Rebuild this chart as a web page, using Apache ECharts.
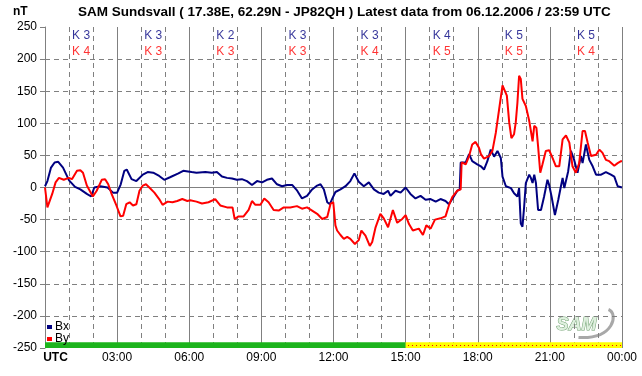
<!DOCTYPE html>
<html>
<head>
<meta charset="utf-8">
<script src="https://cdn.jsdelivr.net/npm/echarts@6/dist/echarts.min.js"></script>
<style>
  html, body { margin: 0; padding: 0; background: #fff; }
  #chart { width: 642px; height: 376px; }
</style>
</head>
<body>
<div id="chart"></div>
<script>
// time in hours (UTC), values in nT
const bxTime = [0, 0.1, 0.25, 0.4, 0.55, 0.75, 1.0, 1.25, 1.47, 1.74, 1.92, 2.05, 2.3, 2.6, 2.83, 3.0, 3.15, 3.3, 3.4, 3.6, 3.8, 4.07, 4.27, 4.5, 4.75, 4.96, 5.2, 5.55, 5.75, 5.95, 6.1, 6.3, 6.67, 6.94, 7.15, 7.36, 7.57, 7.78, 7.98, 8.19, 8.4, 8.61, 8.82, 9.03, 9.23, 9.44, 9.65, 9.86, 10.07, 10.28, 10.49, 10.69, 10.9, 11.11, 11.32, 11.46, 11.6, 11.74, 11.85, 11.94, 12.08, 12.29, 12.5, 12.7, 12.87, 13.05, 13.26, 13.47, 13.68, 13.88, 14.09, 14.27, 14.37, 14.58, 14.79, 15.0, 15.2, 15.41, 15.62, 15.83, 16.04, 16.25, 16.45, 16.66, 16.8, 16.94, 17.15, 17.25, 17.29, 17.5, 17.64, 17.77, 17.98, 18.13, 18.26, 18.4, 18.54, 18.68, 18.82, 18.96, 19.03, 19.17, 19.38, 19.51, 19.65, 19.72, 19.79, 19.86, 19.93, 20.0, 20.14, 20.21, 20.28, 20.35, 20.42, 20.51, 20.63, 20.76, 20.9, 20.97, 21.07, 21.21, 21.35, 21.46, 21.53, 21.6, 21.76, 21.875, 22.01, 22.15, 22.29, 22.36, 22.5, 22.64, 22.78, 22.92, 23.13, 23.33, 23.54, 23.68, 23.82, 24];
const bx = [2, 10, 31, 39, 40, 31, 11, 1, -3, -10, -14, 0, 2, 0, -8, -8, 5, 26, 28, 13, 10, 20, 24, 23, 18, 12, 16, 22, 26, 25, 24, 23, 24, 23, 24, 17, 15, 14, 12, 13, 10, 4, 10, 8, 12, 14, 5, 2, 4, 4, -5, -17, -13, -3, 3, 5, -3, -23, -26, -18, -7, -3, 2, 10, 22, 9, 2, 8, -3, -8, -10, -5, -13, -5, -8, 0, -10, -17, -13, -19, -18, -22, -18, -21, -26, -18, -5, -3, 39, 39, 52, 41, 36, 33, 28, 41, 59, 48, 57, 46, 17, 2, -1, -9, -14, -1, -56, -61, -30, 7, 20, 15, 7, 20, 7, -35, -35, -14, 12, 4, -14, -43, -19, 2, 15, -1, 25, 57, 43, 23, 49, 38, 67, 43, 33, 20, 20, 24, 20, 17, 2, 0];

const byTime = [0, 0.1, 0.16, 0.3, 0.44, 0.58, 0.78, 0.99, 1.12, 1.33, 1.47, 1.58, 1.74, 1.99, 2.15, 2.36, 2.5, 2.63, 2.77, 2.97, 3.14, 3.25, 3.38, 3.52, 3.66, 3.8, 3.93, 4.07, 4.2, 4.34, 4.55, 4.75, 4.89, 5.1, 5.3, 5.5, 5.71, 5.92, 6.04, 6.3, 6.53, 6.8, 7.08, 7.29, 7.57, 7.8, 7.89, 8.05, 8.26, 8.47, 8.61, 8.75, 8.96, 9.12, 9.3, 9.51, 9.72, 9.93, 10.2, 10.48, 10.69, 10.9, 11.11, 11.32, 11.53, 11.74, 11.88, 11.99, 12.08, 12.15, 12.29, 12.43, 12.57, 12.7, 12.89, 13.05, 13.16, 13.33, 13.51, 13.61, 13.75, 13.95, 14.09, 14.27, 14.47, 14.65, 14.86, 15.0, 15.14, 15.3, 15.55, 15.72, 15.86, 16.04, 16.22, 16.45, 16.66, 16.8, 16.94, 17.15, 17.29, 17.33, 17.5, 17.64, 17.77, 17.91, 18.05, 18.13, 18.26, 18.47, 18.61, 18.75, 18.89, 19.03, 19.1, 19.21, 19.31, 19.4, 19.51, 19.58, 19.65, 19.72, 19.79, 19.86, 20.0, 20.14, 20.28, 20.35, 20.44, 20.51, 20.6, 20.69, 20.83, 20.97, 21.11, 21.25, 21.39, 21.53, 21.67, 21.81, 21.94, 22.08, 22.22, 22.36, 22.46, 22.57, 22.71, 22.92, 23.06, 23.19, 23.33, 23.47, 23.68, 23.82, 23.96, 24];
const by = [0, -31, -31, -10, 8, 15, 12, 15, 13, 26, 27, 23, 3, -14, -5, 12, 13, 5, -10, -28, -45, -44, -26, -23, -28, -26, -5, 3, 5, 0, -8, -18, -27, -22, -23, -21, -18, -21, -20, -22, -25, -23, -18, -28, -31, -31, -49, -45, -45, -35, -21, -27, -27, -17, -23, -35, -36, -31, -31, -29, -33, -31, -36, -41, -49, -46, -25, -23, -59, -67, -74, -80, -77, -80, -88, -82, -67, -75, -91, -85, -62, -41, -48, -62, -35, -55, -49, -43, -57, -67, -64, -74, -59, -64, -50, -48, -45, -28, -15, -5, -3, 39, 36, 49, 67, 71, 62, 52, 45, 49, 57, 85, 122, 159, 161, 143, 101, 77, 83, 101, 132, 174, 169, 138, 127, 104, 72, 96, 93, 64, 23, 36, 57, 58, 46, 33, 33, 75, 81, 70, 33, 23, 38, 88, 88, 70, 49, 51, 59, 54, 43, 41, 34, 38, 41, 41];

// K indices per 3-hour block
const kBx = [3, 3, 2, 3, 3, 4, 5, 5];
const kBy = [4, 3, 3, 3, 4, 5, 5, 4];

const FONT = '"Liberation Sans", Arial, sans-serif';
const GRAY = '#808080';

const chart = echarts.init(document.getElementById('chart'));

const bxData = bxTime.map((t, i) => [t, bx[i]]);
const byData = byTime.map((t, i) => [t, by[i]]);
const kBxData = kBx.map((k, i) => [1.5 + i * 3, 236]);
const kByData = kBy.map((k, i) => [1.5 + i * 3, 212]);

const hourLabel = v => {
  if (v === 0) return '{u|UTC}';
  if (v % 3 !== 0) return '';
  const h = v % 24;
  return (h < 10 ? '0' + h : h) + ':00';
};

const option = {
  animation: false,
  textStyle: { fontFamily: FONT },
  title: {
    text: 'SAM Sundsvall ( 17.38E, 62.29N - JP82QH ) Latest data from 06.12.2006 / 23:59 UTC',
    left: 78,
    top: 5,
    padding: 0,
    textStyle: { fontSize: 13.5, fontWeight: 'bold', color: '#000', fontFamily: FONT }
  },
  legend: {
    data: ['Bx', 'By'],
    orient: 'vertical',
    left: 47,
    top: 321,
    padding: 0,
    itemGap: 0,
    itemWidth: 5,
    itemHeight: 4,
    icon: 'rect',
    selectedMode: false,
    textStyle: { fontSize: 12, color: '#000', padding: [0, 0, 0, -2] }
  },
  grid: { left: 45, right: 20, top: 27, bottom: 28 },
  xAxis: [
    {
      type: 'value',
      min: 0,
      max: 24,
      interval: 1,
      axisLine: { lineStyle: { color: GRAY } },
      axisTick: { length: 4, lineStyle: { color: GRAY } },
      axisLabel: {
        margin: 4,
        fontSize: 12,
        color: '#000',
        formatter: hourLabel,
        rich: { u: { fontWeight: 'bold', fontSize: 12, color: '#000', padding: [0, 0, 0, 21] } }
      },
      splitLine: {
        show: true,
        showMinLine: false,
        lineStyle: { color: GRAY, type: [5, 4] }
      }
    },
    {
      type: 'value',
      min: 0,
      max: 24,
      interval: 3,
      position: 'bottom',
      axisLine: { show: false },
      axisTick: { show: false },
      axisLabel: { show: false },
      splitLine: {
        show: true,
        showMinLine: false,
        showMaxLine: true,
        lineStyle: { color: GRAY, type: 'solid' }
      }
    }
  ],
  yAxis: [
    {
      type: 'value',
      min: -250,
      max: 250,
      interval: 50,
      axisLine: { show: true, lineStyle: { color: GRAY } },
      axisTick: { show: true, length: 5, lineStyle: { color: GRAY } },
      axisLabel: { margin: 8, fontSize: 12, color: '#000' },
      splitLine: {
        show: true,
        showMinLine: false,
        showMaxLine: false,
        lineStyle: { color: GRAY, type: [5, 4] }
      }
    },
    {
      type: 'value',
      min: -250,
      max: 250,
      interval: 250,
      position: 'right',
      axisLine: { show: false },
      axisTick: { show: false },
      axisLabel: { show: false },
      splitLine: {
        show: true,
        showMinLine: false,
        showMaxLine: false,
        lineStyle: { color: GRAY, type: 'solid' }
      }
    }
  ],
  series: [
    {
      name: 'Bx',
      type: 'line',
      data: bxData,
      showSymbol: false,
      color: '#000080',
      lineStyle: { width: 2, color: '#000080' },
      z: 3
    },
    {
      name: 'By',
      type: 'line',
      data: byData,
      showSymbol: false,
      color: '#ff0000',
      lineStyle: { width: 2, color: '#ff0000' },
      z: 4,
      // status bar along the bottom
      markArea: {
        silent: true,
        data: [
          [{ coord: [0, -250], itemStyle: { color: '#1cb41c' } }, { coord: [15, -241] }],
          [{ coord: [15, -250], itemStyle: { color: '#ffff00' } }, { coord: [24, -241] }]
        ]
      },
      markLine: {
        silent: true,
        symbol: 'none',
        label: { show: false },
        lineStyle: { color: '#ff0000', width: 1, type: [1, 3] },
        data: [[{ coord: [15.1, -245.5] }, { coord: [24, -245.5] }]]
      }
    },
    {
      name: 'K Bx',
      type: 'scatter',
      silent: true,
      symbolSize: 0,
      data: kBxData,
      label: {
        show: true,
        position: 'inside',
        fontSize: 12,
        color: '#000080',
        formatter: p => 'K ' + kBx[p.dataIndex]
      }
    },
    {
      name: 'K By',
      type: 'scatter',
      silent: true,
      symbolSize: 0,
      data: kByData,
      label: {
        show: true,
        position: 'inside',
        fontSize: 12,
        color: '#ff0000',
        formatter: p => 'K ' + kBy[p.dataIndex]
      }
    }
  ],
  graphic: [
    {
      type: 'text',
      left: 13,
      top: 6,
      style: { text: 'nT', font: 'bold 12px ' + FONT, fill: '#000' }
    },
    {
      type: 'group',
      left: 556,
      top: 307,
      silent: true,
      children: [
        {
          type: 'bezierCurve',
          shape: { x1: 24, y1: 30, x2: 54, y2: 2, cpx1: 60, cpy1: 32, cpx2: 64, cpy2: 6 },
          style: { stroke: '#a8a8a8', lineWidth: 3, fill: null }
        },
        {
          type: 'text',
          x: 2,
          y: 9,
          style: {
            text: 'SAM',
            font: 'italic bold 18px ' + FONT,
            fill: '#dff0df',
            stroke: '#6fa06f',
            lineWidth: 1
          }
        }
      ]
    }
  ]
};

chart.setOption(option);
</script>
</body>
</html>
